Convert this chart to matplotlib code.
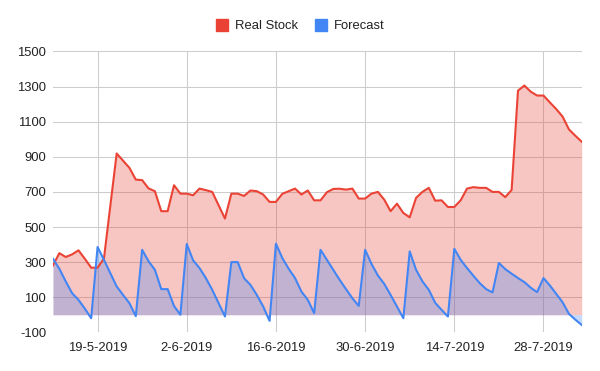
import matplotlib
matplotlib.use("Agg")
import matplotlib.pyplot as plt
from matplotlib.lines import Line2D
import pandas as pd

# daily values, starting 12-5-2019
start_date = "2019-05-12"
real_stock = [281, 351, 329, 344, 367, 319, 268, 268, 320, 620,
              919, 878, 837, 770, 767, 720, 704, 590, 590, 738,
              690, 690, 681, 719, 710, 700, 624, 548, 690, 690,
              677, 708, 704, 685, 643, 643, 689, 704, 719, 685,
              708, 652, 652, 698, 717, 718, 713, 719, 662, 662,
              690, 700, 656, 590, 633, 580, 555, 666, 700, 723,
              650, 652, 614, 614, 652, 719, 727, 723, 723, 700,
              700, 670, 711, 1277, 1306, 1271, 1249, 1249, 1210, 1172,
              1129, 1056, 1020, 986]
forecast = [319, 262, 190, 123, 85, 35, -20, 386, 313, 237,
            161, 113, 66, -8, 370, 305, 256, 146, 146, 50,
            0, 403, 310, 266, 209, 142, 66, -10, 300, 300,
            208, 170, 113, 47, -35, 405, 323, 262, 209, 132,
            85, 9, 370, 313, 256, 199, 146, 94, 50, 370,
            290, 224, 176, 113, 47, -20, 361, 256, 190, 142,
            68, 28, -10, 376, 313, 266, 222, 180, 146, 127,
            295, 260, 234, 209, 186, 154, 129, 209, 167, 119,
            71, 5, -28, -58]
date_ticks = ["19-5-2019", "2-6-2019", "16-6-2019", "30-6-2019", "14-7-2019", "28-7-2019"]
y_ticks = [-100, 100, 300, 500, 700, 900, 1100, 1300, 1500]

dates = pd.date_range(start_date, periods=len(real_stock), freq="D")
tick_pos = pd.to_datetime(date_ticks, format="%d-%m-%Y")

c_red = "#EA4335"
c_blue = "#4285F4"

plt.rcParams["font.family"] = ["Liberation Sans", "DejaVu Sans"]
plt.rcParams["axes.unicode_minus"] = False

fig = plt.figure(figsize=(6, 3.71), dpi=100)
ax = fig.add_axes([0.0883, 0.1043, 0.8812, 0.7569])

ax.fill_between(dates, real_stock, 0, color=c_red, alpha=0.3, lw=0)
ax.plot(dates, real_stock, color=c_red, lw=1.5)
ax.fill_between(dates, forecast, 0, color=c_blue, alpha=0.3, lw=0)
ax.plot(dates, forecast, color=c_blue, lw=1.5)

ax.set_xlim(dates[0], dates[-1])
ax.set_ylim(-100, 1500)
ax.set_yticks(y_ticks)
ax.set_xticks(tick_pos)
ax.set_xticklabels(date_ticks)
ax.grid(True, color="#cccccc", lw=0.75)
ax.set_axisbelow(True)
for s in ax.spines.values():
    s.set_visible(False)
ax.tick_params(length=0, labelsize=9.4, colors="#222222")
ax.tick_params(axis="x", pad=7)
ax.tick_params(axis="y", pad=5)

handles = [
    Line2D([0], [0], marker="s", color="none", markerfacecolor=c_red, markeredgecolor=c_red,
           markersize=8, label="Real Stock"),
    Line2D([0], [0], marker="s", color="none", markerfacecolor=c_blue, markeredgecolor=c_blue,
           markersize=8, label="Forecast"),
]
leg = fig.legend(handles=handles, loc="center", bbox_to_anchor=(0.5, 0.929), ncol=2,
                 frameon=False, fontsize=9.4, handlelength=0.9, handletextpad=0.55,
                 columnspacing=1.3)
for t in leg.get_texts():
    t.set_color("#222222")

fig.savefig("out.png", dpi=100)
